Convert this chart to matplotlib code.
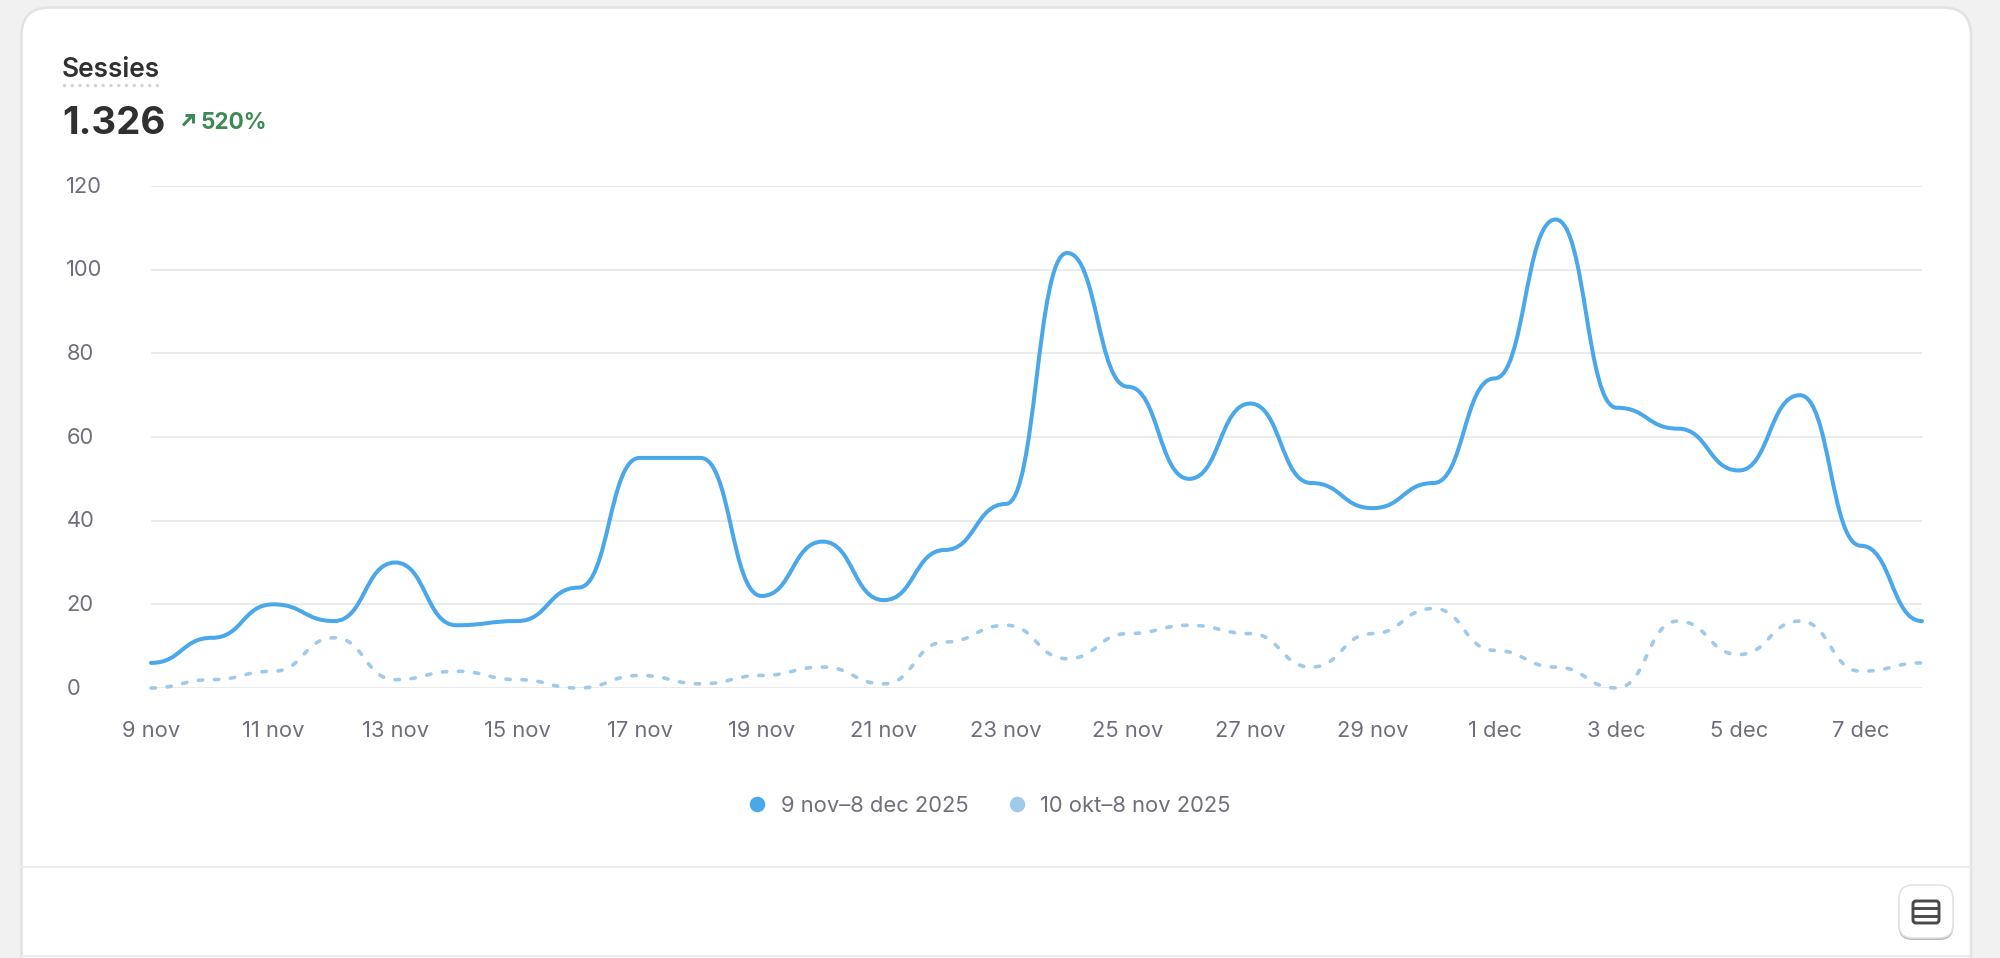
import matplotlib
matplotlib.use('Agg')
import matplotlib.pyplot as plt
from matplotlib.patches import FancyBboxPatch, PathPatch
from matplotlib.path import Path
from matplotlib.transforms import ScaledTranslation

plt.rcParams['font.family'] = ['Inter', 'DejaVu Sans']

# daily values
days = ['9 nov', '10 nov', '11 nov', '12 nov', '13 nov', '14 nov', '15 nov', '16 nov', '17 nov', '18 nov',
        '19 nov', '20 nov', '21 nov', '22 nov', '23 nov', '24 nov', '25 nov', '26 nov', '27 nov', '28 nov',
        '29 nov', '30 nov', '1 dec', '2 dec', '3 dec', '4 dec', '5 dec', '6 dec', '7 dec', '8 dec']
current = [6, 12, 20, 16, 30, 15, 16, 24, 55, 55,
           22, 35, 21, 33, 44, 104, 72, 50, 68, 49,
           43, 49, 74, 112, 67, 62, 52, 70, 34, 16]
previous = [0, 2, 4, 12, 2, 4, 2, 0, 3, 1,
            3, 5, 1, 11, 15, 7, 13, 15, 13, 5,
            13, 19, 9, 5, 0, 16, 8, 16, 4, 6]
y_ticks = [0, 20, 40, 60, 80, 100, 120]
series_names = ['9 nov\u20138 dec 2025', '10 okt\u20138 nov 2025']

title = 'Sessies'
total = '1.326'
change = '520%'

BLUE = '#4aa8ea'
LIGHT = '#9fcaea'
GREY = '#6f6e7c'
DARK = '#303030'
GREEN = '#3d8a55'
W, H = 2000, 958


def bump_path(values):
    # horizontal tangent at every day, like the curve in the original chart
    verts = [(0, values[0])]
    codes = [Path.MOVETO]
    for i in range(1, len(values)):
        mid = i - 0.5
        verts += [(mid, values[i - 1]), (mid, values[i]), (i, values[i])]
        codes += [Path.CURVE4] * 3
    return Path(verts, codes)


fig = plt.figure(figsize=(W / 100, H / 100), dpi=100, facecolor='#f1f1f1')

# page layer in pixel coordinates
page = fig.add_axes([0, 0, 1, 1])
page.set_xlim(0, W)
page.set_ylim(H, 0)
page.axis('off')

page.add_patch(FancyBboxPatch((21.5, 7.5), 1949.5, 1100, boxstyle='round,pad=0,rounding_size=28',
                              fc='white', ec='#e3e3e3', lw=1.9))
page.plot([22, 1970], [867, 867], color='#ececec', lw=1.5)
page.plot([22, 1970], [956, 956], color='#ececec', lw=1.5)

page.text(62, 77, title, fontsize=18.9, fontweight='semibold', color=DARK, va='baseline')
page.plot([64, 157], [85, 85], color='#d4d4d4', lw=2.5, linestyle=(0, (0.01, 2.22)),
          dash_capstyle='round')
page.text(62, 134, total, fontsize=27.7, fontweight='bold', color=DARK, va='baseline')

# small arrow next to the change figure
page.plot([183, 192], [125.5, 116], color=GREEN, lw=2.2, solid_capstyle='butt')
page.plot([185, 192.5, 192.5], [115, 115, 122.5], color=GREEN, lw=2.2,
          solid_capstyle='butt', solid_joinstyle='miter')
page.text(200, 129, change, fontsize=16.2, fontweight='bold', color=GREEN, va='baseline')

# legend
for cx, tx, name, col in zip([756.5, 1017], [781, 1040], series_names, [BLUE, LIGHT]):
    page.scatter([cx], [804], s=125, color=col, linewidths=0)
    page.text(tx, 804, name, fontsize=15.8, color=GREY, va='center_baseline')

# table button
page.add_patch(FancyBboxPatch((1898.5, 886), 55, 54, boxstyle='round,pad=0,rounding_size=14',
                              fc='#b8b8b8', ec='none'))
page.add_patch(FancyBboxPatch((1899, 885), 54, 53, boxstyle='round,pad=0,rounding_size=14',
                              fc='white', ec='#e3e3e3', lw=1.1))
page.add_patch(FancyBboxPatch((1913, 901), 26, 22, boxstyle='round,pad=0,rounding_size=3',
                              fc='white', ec='#4a4a4a', lw=2.1))
page.plot([1913, 1939], [908.3, 908.3], color='#4a4a4a', lw=2.1, solid_capstyle='butt')
page.plot([1913, 1939], [915.7, 915.7], color='#4a4a4a', lw=2.1, solid_capstyle='butt')

# chart
ax = fig.add_axes([151 / W, 1 - 688 / H, (1922 - 151) / W, (688 - 186) / H])
ax.patch.set_alpha(0)
ax.set_xlim(0, len(days) - 1)
ax.set_ylim(0, 120)
for s in ax.spines.values():
    s.set_visible(False)

ax.set_yticks(y_ticks)
ax.set_xticks(range(0, len(days), 2))
ax.set_xticklabels(days[::2])
ax.tick_params(axis='both', length=0, labelsize=15.8, labelcolor=GREY)
ax.tick_params(axis='x', pad=24)
ax.tick_params(axis='y', pad=61)
up = ScaledTranslation(0, 1.3 / 100, fig.dpi_scale_trans)
for lab in ax.get_yticklabels():
    lab.set_ha('left')
    lab.set_va('center_baseline')
    lab.set_transform(lab.get_transform() + up)
ax.grid(axis='y', color='#ebebeb', lw=1.4)
ax.set_axisbelow(True)

ax.add_patch(PathPatch(bump_path(previous), fc='none', ec=LIGHT, lw=2.6, clip_on=False,
                       linestyle=(0, (1.2, 3.25)), capstyle='round', zorder=3))
ax.add_patch(PathPatch(bump_path(current), fc='none', ec=BLUE, lw=2.9, clip_on=False,
                       capstyle='round', zorder=4))

fig.savefig('out.png', dpi=100)
